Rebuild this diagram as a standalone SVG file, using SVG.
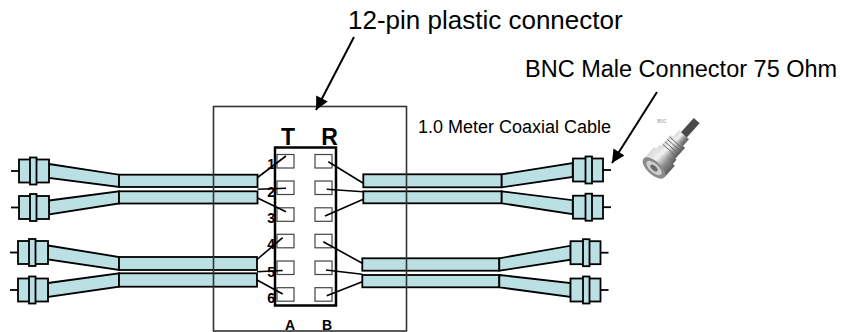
<svg xmlns="http://www.w3.org/2000/svg" width="847" height="332" viewBox="0 0 847 332">
<style>
.cab{fill:#BBE0E3;stroke:#000;stroke-width:1.8;stroke-linejoin:miter}
.wire{stroke:#000;stroke-width:1.6;fill:none}
.pin{fill:#fff;stroke:#444;stroke-width:1.2}
.lbl{font-family:"Liberation Sans",Arial,sans-serif;fill:#000}
.b{font-weight:bold}
.arr{stroke:#000;stroke-width:2;fill:none}
</style>
<defs>
<g id="bnc">
<line x1="11" y1="0" x2="19" y2="0" stroke="#000" stroke-width="1.8"/>
<rect x="19" y="-11.5" width="30" height="23" class="cab"/>
<rect x="30" y="-13.5" width="6.5" height="27" class="cab"/>
</g>
<marker id="ah" viewBox="0 0 10 10" refX="10" refY="5" markerUnits="userSpaceOnUse" markerWidth="17" markerHeight="13" orient="auto">
<path d="M0,0 L10,5 L0,10 z" fill="#000"/>
</marker>
<linearGradient id="metal" x1="0" y1="0" x2="0" y2="1">
<stop offset="0" stop-color="#d8d8d8"/>
<stop offset="0.35" stop-color="#f2f2f2"/>
<stop offset="0.7" stop-color="#8c8c8c"/>
<stop offset="1" stop-color="#5a5a5a"/>
</linearGradient>
</defs>

<g id="left-cables">
<polygon class="cab" points="49,164 119,174.7 119,187 49,178"/>
<rect class="cab" x="119" y="174.7" width="138.5" height="12.3"/>
<polygon class="cab" points="49,200.5 119,191.3 119,203.5 49,214.5"/>
<rect class="cab" x="119" y="191.3" width="138.5" height="12.2"/>
<polygon class="cab" points="48,245.5 119,257 119,270 48,259.5"/>
<rect class="cab" x="119" y="257" width="138" height="13"/>
<polygon class="cab" points="48,283 119,273.3 119,286.7 48,297"/>
<rect class="cab" x="119" y="273.3" width="138" height="13.4"/>
<use href="#bnc" transform="translate(0,171)"/>
<use href="#bnc" transform="translate(0,207.5)"/>
<use href="#bnc" transform="translate(-1,252.5)"/>
<use href="#bnc" transform="translate(-1,290)"/>
</g>

<g id="right-cables">
<rect class="cab" x="363.3" y="174.3" width="138.4" height="13"/>
<polygon class="cab" points="501.7,174.3 572.7,163 572.7,177 501.7,187.3"/>
<rect class="cab" x="363.3" y="191.3" width="138.4" height="12"/>
<polygon class="cab" points="501.7,191.3 572.7,200.2 572.7,214.2 501.7,203.3"/>
<rect class="cab" x="362.3" y="258.3" width="137" height="12.4"/>
<polygon class="cab" points="499.3,258.3 570.7,245.7 570.7,259.7 499.3,270.7"/>
<rect class="cab" x="362.3" y="275" width="137" height="12.3"/>
<polygon class="cab" points="499.3,275 570.7,283 570.7,297 499.3,287.3"/>
<use href="#bnc" transform="translate(622,170) scale(-1,1)"/>
<use href="#bnc" transform="translate(622,207.2) scale(-1,1)"/>
<use href="#bnc" transform="translate(619.5,252.7) scale(-1,1)"/>
<use href="#bnc" transform="translate(619.5,290) scale(-1,1)"/>
</g>

<g id="outer-box">
<rect x="213.5" y="106.5" width="193" height="224.5" fill="none" stroke="#333" stroke-width="1.6"/>
</g>

<g id="plastic-connector">
<rect x="275" y="147.5" width="61" height="158" fill="#fff" stroke="#000" stroke-width="2.5"/>
<rect class="pin" x="277" y="154.5" width="17" height="13.5"/>
<rect class="pin" x="277" y="181" width="17" height="13.5"/>
<rect class="pin" x="277" y="207.8" width="17" height="13.5"/>
<rect class="pin" x="277" y="234.3" width="17" height="13.5"/>
<rect class="pin" x="277" y="261" width="17" height="13.5"/>
<rect class="pin" x="277" y="287.7" width="17" height="13.5"/>
<rect class="pin" x="315" y="154.5" width="17" height="13.5"/>
<rect class="pin" x="315" y="181" width="17" height="13.5"/>
<rect class="pin" x="315" y="207.8" width="17" height="13.5"/>
<rect class="pin" x="315" y="234.3" width="17" height="13.5"/>
<rect class="pin" x="315" y="261" width="17" height="13.5"/>
<rect class="pin" x="315" y="287.7" width="17" height="13.5"/>
<text class="lbl b" x="288" y="145" font-size="23" text-anchor="middle">T</text>
<text class="lbl b" x="329.5" y="145" font-size="23" text-anchor="middle">R</text>
<text class="lbl b" x="290" y="329.5" font-size="14" text-anchor="middle">A</text>
<text class="lbl b" x="327" y="329.5" font-size="14" text-anchor="middle">B</text>
</g>

<g id="connectors">
<line class="wire" x1="257.5" y1="177.5" x2="286" y2="156"/>
<line class="wire" x1="257.5" y1="189.3" x2="286" y2="188.3"/>
<line class="wire" x1="257.5" y1="198" x2="286" y2="211.7"/>
<line class="wire" x1="257" y1="259.5" x2="282.7" y2="237.7"/>
<line class="wire" x1="257" y1="271.7" x2="282.7" y2="270.5"/>
<line class="wire" x1="257" y1="280" x2="282.7" y2="294"/>
<line class="wire" x1="328.3" y1="161.7" x2="363.3" y2="183.3"/>
<line class="wire" x1="326.7" y1="189.3" x2="363.3" y2="191.7"/>
<line class="wire" x1="325" y1="216" x2="363.3" y2="199.3"/>
<line class="wire" x1="323.3" y1="241.7" x2="362.3" y2="263.3"/>
<line class="wire" x1="326" y1="270" x2="362.3" y2="274.3"/>
<line class="wire" x1="326.7" y1="295.7" x2="362.3" y2="281.7"/>
<line class="arr" x1="354" y1="37" x2="316" y2="110" marker-end="url(#ah)"/>
<line class="arr" x1="657" y1="92" x2="612" y2="163" marker-end="url(#ah)"/>
</g>

<g id="pin-numbers">
<text class="lbl b" x="275" y="169.3" font-size="14" text-anchor="end">1</text>
<text class="lbl b" x="275" y="196.7" font-size="14" text-anchor="end">2</text>
<text class="lbl b" x="275" y="222.7" font-size="14" text-anchor="end">3</text>
<text class="lbl b" x="275" y="249.3" font-size="14" text-anchor="end">4</text>
<text class="lbl b" x="275" y="276.7" font-size="14" text-anchor="end">5</text>
<text class="lbl b" x="275" y="303.3" font-size="14" text-anchor="end">6</text>
</g>

<g id="labels">
<text class="lbl" x="348" y="28.5" font-size="26">12-pin plastic connector</text>
<text class="lbl" x="525" y="76.7" font-size="23.5">BNC Male Connector 75 Ohm</text>
<text class="lbl" x="418" y="133.3" font-size="18">1.0 Meter Coaxial Cable</text>
</g>

<g id="bnc-photo">
<text x="662" y="123" font-family="Liberation Sans, Arial, sans-serif" font-size="4.5" fill="#999" text-anchor="middle">BNC</text>
<g transform="translate(654,168) rotate(-48) scale(1.12)">
<rect x="38" y="-3.5" width="19" height="7" fill="#4a4a4a"/>
<rect x="31" y="-6" width="9" height="12" fill="url(#metal)"/>
<rect x="18" y="-8.5" width="14" height="17" fill="url(#metal)"/>
<line x1="21" y1="-8.5" x2="21" y2="8.5" stroke="#666" stroke-width="0.8"/>
<line x1="24" y1="-8.5" x2="24" y2="8.5" stroke="#666" stroke-width="0.8"/>
<line x1="27" y1="-8.5" x2="27" y2="8.5" stroke="#666" stroke-width="0.8"/>
<line x1="30" y1="-8.5" x2="30" y2="8.5" stroke="#666" stroke-width="0.8"/>
<rect x="13" y="-10" width="6" height="20" fill="url(#metal)"/>
<rect x="0" y="-12.5" width="14" height="25" fill="url(#metal)"/>
<ellipse cx="0" cy="0" rx="6" ry="12.5" fill="#8a8a8a"/>
<ellipse cx="0" cy="0" rx="4" ry="8.5" fill="#cfcfcf"/>
<ellipse cx="0" cy="0" rx="2" ry="4" fill="#6a6a6a"/>
</g>
</g>
</svg>
